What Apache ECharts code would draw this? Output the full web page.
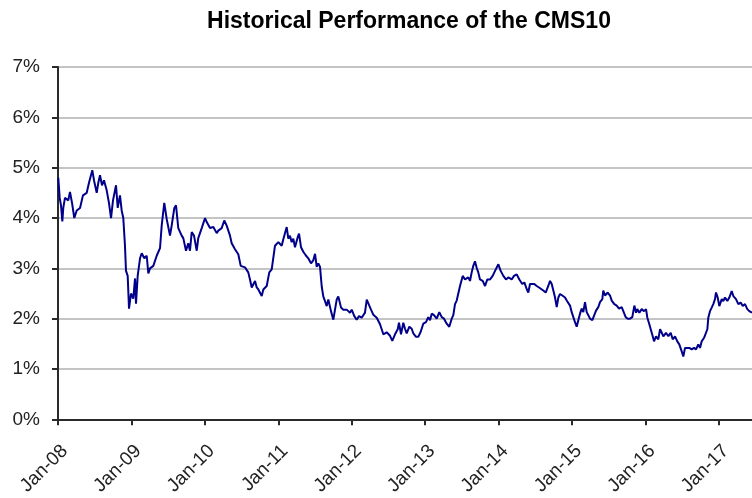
<!DOCTYPE html>
<html lang="en">
<head>
<meta charset="UTF-8"/>
<title>CMS10</title>
<script src="https://cdn.jsdelivr.net/npm/echarts@6/dist/echarts.min.js"></script>
<style>
  html, body { margin: 0; padding: 0; background: #fff; }
  #main { width: 752px; height: 498px; }
</style>
</head>
<body>
<div id="main"></div>
<script>
// time as decimal years (2008.0 = Jan-08), rate in %
var years = [
  2008.004, 2008.023, 2008.041, 2008.059, 2008.072, 2008.095, 2008.140, 2008.163, 2008.191, 2008.222,
  2008.255, 2008.300, 2008.340, 2008.391, 2008.422, 2008.467, 2008.490, 2008.527, 2008.549, 2008.572,
  2008.599, 2008.626, 2008.663, 2008.694, 2008.722, 2008.749, 2008.790, 2008.813, 2008.844, 2008.867,
  2008.889, 2008.912, 2008.926, 2008.949, 2008.967, 2008.994, 2009.025, 2009.049, 2009.062, 2009.085,
  2009.117, 2009.140, 2009.175, 2009.208, 2009.230, 2009.253, 2009.298, 2009.344, 2009.389, 2009.412,
  2009.447, 2009.480, 2009.525, 2009.548, 2009.584,
  2009.607, 2009.638, 2009.684, 2009.706, 2009.743, 2009.774, 2009.797, 2009.821, 2009.852, 2009.889,
  2009.910, 2009.957, 2010.002, 2010.025, 2010.070, 2010.115, 2010.161, 2010.183, 2010.229, 2010.264,
  2010.297, 2010.342, 2010.365, 2010.410, 2010.455, 2010.488, 2010.546, 2010.591, 2010.614, 2010.638,
  2010.683, 2010.706, 2010.728, 2010.774, 2010.796, 2010.842, 2010.877, 2010.910, 2010.955, 2011.000,
  2011.046, 2011.068, 2011.114,
  2011.136, 2011.159, 2011.182, 2011.204, 2011.227, 2011.264, 2011.282, 2011.309, 2011.340, 2011.373,
  2011.408, 2011.445, 2011.476, 2011.500, 2011.523, 2011.545, 2011.568, 2011.591, 2011.613, 2011.636,
  2011.659, 2011.681, 2011.717, 2011.749, 2011.772, 2011.795, 2011.817, 2011.854, 2011.885, 2011.931,
  2011.976, 2011.999, 2012.035, 2012.067, 2012.099, 2012.135, 2012.180, 2012.204, 2012.225, 2012.262,
  2012.293, 2012.340, 2012.385, 2012.430, 2012.476, 2012.521, 2012.552, 2012.589, 2012.626, 2012.643,
  2012.671, 2012.702,
  2012.725, 2012.748, 2012.784, 2012.816, 2012.838, 2012.875, 2012.906, 2012.939, 2012.974, 2013.011,
  2013.042, 2013.066, 2013.089, 2013.120, 2013.157, 2013.192, 2013.225, 2013.256, 2013.293, 2013.328,
  2013.361, 2013.383, 2013.406, 2013.429, 2013.451, 2013.474, 2013.511, 2013.542, 2013.565, 2013.587,
  2013.610, 2013.633, 2013.655, 2013.678, 2013.701, 2013.723, 2013.746, 2013.783, 2013.815, 2013.846,
  2013.883, 2013.919, 2013.951, 2013.996, 2014.028, 2014.064, 2014.100, 2014.132, 2014.178, 2014.209,
  2014.246, 2014.282,
  2014.322, 2014.350, 2014.382, 2014.404, 2014.427, 2014.450, 2014.486, 2014.518, 2014.550, 2014.577,
  2014.608, 2014.641, 2014.676, 2014.700, 2014.723, 2014.745, 2014.768, 2014.791, 2014.813, 2014.836,
  2014.867, 2014.904, 2014.927, 2014.949, 2014.972, 2014.995, 2015.017, 2015.040, 2015.063, 2015.085,
  2015.108, 2015.131, 2015.153, 2015.176, 2015.199, 2015.221, 2015.244, 2015.276, 2015.303, 2015.326,
  2015.357, 2015.380, 2015.412, 2015.425, 2015.449, 2015.485, 2015.517, 2015.540, 2015.575, 2015.608,
  2015.639, 2015.676, 2015.698, 2015.730, 2015.758, 2015.789, 2015.820, 2015.848,
  2015.871, 2015.888, 2015.916, 2015.948, 2015.980, 2016.007, 2016.025, 2016.052, 2016.071, 2016.098,
  2016.116, 2016.143, 2016.174, 2016.198, 2016.221, 2016.243, 2016.279, 2016.311, 2016.343, 2016.370,
  2016.402, 2016.433, 2016.460, 2016.493, 2016.515, 2016.538, 2016.561, 2016.597, 2016.629, 2016.660,
  2016.688, 2016.719, 2016.742, 2016.765, 2016.797, 2016.824, 2016.842, 2016.855, 2016.878, 2016.901,
  2016.923, 2016.946, 2016.960, 2016.983, 2017.005, 2017.038, 2017.059, 2017.083, 2017.114, 2017.141,
  2017.174, 2017.196, 2017.232, 2017.264, 2017.296, 2017.324, 2017.355, 2017.386, 2017.413, 2017.450
];
var cms10 = [
  4.80, 4.40, 4.25, 3.93, 4.20, 4.40, 4.35, 4.52, 4.30, 4.00,
  4.15, 4.20, 4.45, 4.50, 4.70, 4.95, 4.75, 4.50, 4.70, 4.85,
  4.65, 4.75, 4.55, 4.30, 4.00, 4.35, 4.65, 4.20, 4.45, 4.15,
  4.00, 3.45, 2.95, 2.85, 2.20, 2.50, 2.40, 2.80, 2.30, 2.85,
  3.20, 3.30, 3.20, 3.25, 2.90, 3.00, 3.05, 3.25, 3.40, 3.85,
  4.30, 3.98, 3.65, 3.85, 4.20,
  4.25, 3.80, 3.65, 3.60, 3.35, 3.50, 3.35, 3.72, 3.65, 3.35,
  3.60, 3.80, 4.00, 3.92, 3.80, 3.82, 3.70, 3.75, 3.80, 3.95,
  3.85, 3.65, 3.50, 3.38, 3.28, 3.05, 3.02, 2.92, 2.78, 2.62,
  2.75, 2.62, 2.58, 2.45, 2.58, 2.65, 2.92, 2.98, 3.45, 3.52,
  3.45, 3.58, 3.82,
  3.59, 3.65, 3.52, 3.59, 3.42, 3.62, 3.69, 3.42, 3.33, 3.26,
  3.20, 3.10, 3.16, 3.29, 3.03, 3.10, 3.03, 2.64, 2.44, 2.35,
  2.25, 2.38, 2.15, 1.98, 2.18, 2.38, 2.44, 2.22, 2.18, 2.18,
  2.12, 2.18, 2.05, 1.98, 2.05, 2.02, 2.12, 2.38, 2.35, 2.18,
  2.08, 2.02, 1.89, 1.69, 1.73, 1.66, 1.56, 1.69, 1.79, 1.92,
  1.69, 1.92,
  1.80, 1.71, 1.84, 1.80, 1.71, 1.64, 1.64, 1.74, 1.90, 1.93,
  2.03, 1.97, 2.10, 2.07, 2.00, 2.13, 2.03, 2.00, 1.90, 1.84,
  2.00, 2.07, 2.29, 2.36, 2.39, 2.65, 2.85, 2.78, 2.75, 2.82,
  2.75, 2.92, 3.05, 3.14, 3.01, 2.92, 2.78, 2.75, 2.65, 2.78,
  2.78, 2.85, 2.95, 3.08, 2.95, 2.85, 2.78, 2.82, 2.78, 2.85,
  2.88, 2.78,
  2.69, 2.72, 2.59, 2.52, 2.69, 2.72, 2.69, 2.65, 2.62, 2.65,
  2.56, 2.52, 2.65, 2.75, 2.69, 2.56, 2.42, 2.23, 2.42, 2.49,
  2.46, 2.42, 2.36, 2.39, 2.26, 2.13, 2.03, 1.93, 1.84, 1.97,
  2.10, 2.20, 2.13, 2.33, 2.13, 2.07, 2.00, 1.97, 2.00, 2.16,
  2.23, 2.33, 2.39, 2.56, 2.46, 2.52, 2.46, 2.36, 2.29, 2.26,
  2.20, 2.23, 2.26, 2.03, 2.00, 2.00, 2.03, 2.26,
  2.12, 2.19, 2.12, 2.19, 2.15, 2.19, 2.02, 1.89, 1.79, 1.65,
  1.55, 1.65, 1.59, 1.79, 1.72, 1.65, 1.72, 1.65, 1.72, 1.59,
  1.65, 1.55, 1.49, 1.35, 1.25, 1.42, 1.39, 1.42, 1.39, 1.42,
  1.39, 1.49, 1.42, 1.55, 1.62, 1.65, 1.79, 2.02, 2.15, 2.22,
  2.29, 2.39, 2.52, 2.42, 2.25, 2.39, 2.35, 2.42, 2.35, 2.42,
  2.55, 2.45, 2.39, 2.29, 2.32, 2.25, 2.29, 2.19, 2.15, 2.12
];

var chart = echarts.init(document.getElementById('main'));

var points = years.map(function (y, i) { return [y, cms10[i]]; });

var option = {
    animation: false,
    backgroundColor: '#ffffff',
    title: {
        text: 'Historical Performance of the CMS10',
        left: 404,
        textAlign: 'center',
        top: 5,
        textStyle: { fontFamily: 'Liberation Sans', fontWeight: 'bold', fontSize: 23, color: '#000' }
    },
    grid: { left: 58, right: 0, top: 67, bottom: 77 },
    xAxis: {
        type: 'value',
        min: 2008,
        max: 2017.45,
        interval: 1,
        axisLine: { lineStyle: { color: '#2a2a2a', width: 2 } },
        axisTick: { show: true, length: 6, lineStyle: { color: '#2a2a2a', width: 2 } },
        splitLine: { show: false },
        axisLabel: {
            rotate: 45,
            margin: 22,
            verticalAlign: 'top',
            fontFamily: 'Liberation Sans',
            fontSize: 19,
            color: '#222',
            showMaxLabel: false,
            formatter: function (v) {
                var yy = String(Math.round(v) % 100);
                return 'Jan-' + (yy.length < 2 ? '0' + yy : yy);
            }
        }
    },
    yAxis: {
        type: 'value',
        min: 0,
        max: 7,
        interval: 1,
        axisLine: { show: true, lineStyle: { color: '#2a2a2a', width: 2 } },
        axisTick: { show: true, length: 6, lineStyle: { color: '#2a2a2a', width: 2 } },
        splitLine: { lineStyle: { color: '#c4c4c4', width: 2 } },
        axisLabel: {
            margin: 18,
            fontFamily: 'Liberation Sans',
            fontSize: 19,
            color: '#222',
            formatter: '{value}%'
        }
    },
    series: [{
        name: 'CMS10',
        type: 'line',
        data: points,
        showSymbol: false,
        lineStyle: { color: '#00008b', width: 2 },
        z: 5
    }]
};

chart.setOption(option);
</script>
</body>
</html>
